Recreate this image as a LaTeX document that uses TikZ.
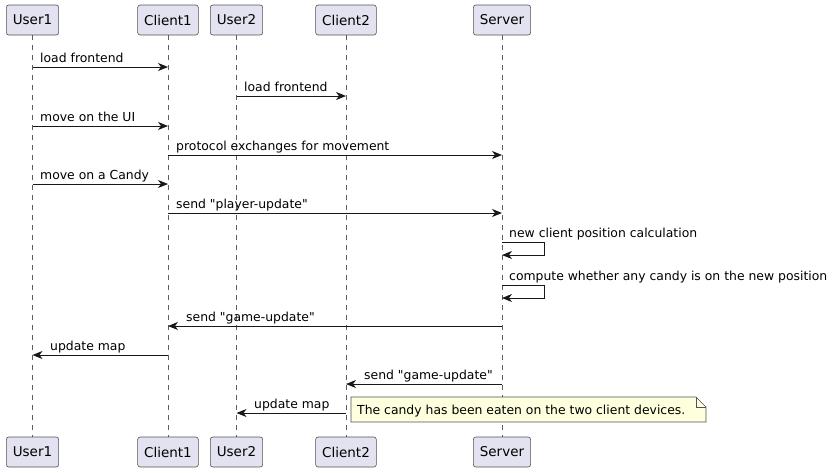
\documentclass[tikz,border=0pt]{standalone}
\usepackage{fontspec}
\setmainfont{DejaVu Sans}[Ligatures=TeXOff]
\usetikzlibrary{arrows.meta}
\definecolor{partfill}{HTML}{E2E2F0}
\definecolor{linecol}{HTML}{181818}
\definecolor{notefill}{HTML}{FEFFDD}
\tikzset{
	part/.style={draw=linecol!75, fill=partfill, rounded corners=2.5pt, line width=0.6pt, minimum height=30pt, inner xsep=6.5pt, font=\fontsize{13.5}{16}\selectfont},
	life/.style={draw=linecol!70, line width=0.5pt, dash pattern=on 5pt off 5pt},
	msg/.style={draw=linecol, line width=1pt, -{Stealth[length=10pt,width=8pt,inset=3pt]}},
	lbl/.style={anchor=base west, inner sep=0pt, font=\fontsize{12.4}{15}\selectfont},
}
\begin{document}
\begin{tikzpicture}[x=1pt,y=-1pt]
		\useasboundingbox (0,0) rectangle (838,472);
		\node[part] (u1t) at (32.5,20) {User1};
		\node[part] (c1t) at (168,20) {Client1};
		\node[part] (u2t) at (236.5,20) {User2};
		\node[part] (c2t) at (346,20) {Client2};
		\node[part] (svt) at (502,20) {Server};
		\node[part] (u1b) at (32.5,452) {User1};
		\node[part] (c1b) at (168,452) {Client1};
		\node[part] (u2b) at (236.5,452) {User2};
		\node[part] (c2b) at (346,452) {Client2};
		\node[part] (svb) at (502,452) {Server};
		\draw[life] (u1t) -- (u1b);
		\draw[life] (c1t) -- (c1b);
		\draw[life] (u2t) -- (u2b);
		\draw[life] (c2t) -- (c2b);
		\draw[life] (svt) -- (svb);
		\draw[msg] (u1t |- 0,67) -- (c1t |- 0,67);
		\node[lbl] (l1) at (40,62) {load frontend};
		\draw[msg] (u2t |- 0,96) -- (c2t |- 0,96);
		\node[lbl] (l2) at (244,91) {load frontend};
		\draw[msg] (u1t |- 0,126) -- (c1t |- 0,126);
		\node[lbl] (l3) at (40,121) {move on the UI};
		\draw[msg] (c1t |- 0,155) -- (svt |- 0,155);
		\node[lbl] (l4) at (176,150) {protocol exchanges for movement};
		\draw[msg] (u1t |- 0,184) -- (c1t |- 0,184);
		\node[lbl] (l5) at (40,179) {move on a Candy};
		\draw[msg] (c1t |- 0,213) -- (svt |- 0,213);
		\node[lbl] (l6) at (176,208) {send "player-update"};
		\draw[msg] (svt |- 0,242) -- ++(42,0) -- ++(0,13) -- (svt |- 0,255);
		\node[lbl] (l7) at (509,237) {new client position calculation};
		\draw[msg] (svt |- 0,285) -- ++(42,0) -- ++(0,13) -- (svt |- 0,298);
		\node[lbl] (l8) at (509,280) {compute whether any candy is on the new position};
		\draw[msg] (svt |- 0,326) -- (c1t |- 0,326);
		\node[lbl] (l9) at (186,321) {send "game-update"};
		\draw[msg] (c1t |- 0,355) -- (u1t |- 0,355);
		\node[lbl] (l10) at (50,350) {update map};
		\draw[msg] (svt |- 0,384) -- (c2t |- 0,384);
		\node[lbl] (l11) at (364,379) {send "game-update"};
		\draw[msg] (c2t |- 0,413) -- (u2t |- 0,413);
		\node[lbl] (l12) at (254,408) {update map};
		% note
		\draw[draw=linecol!75, fill=notefill, line width=0.6pt] (351,397) -- (696,397) -- (706,407) -- (706,422) -- (351,422) -- cycle;
		\draw[draw=linecol!75, line width=0.6pt] (696,397) -- (696,407) -- (706,407);
		\node[lbl] (nt) at (357,414) {The candy has been eaten on the two client devices.};
\end{tikzpicture}
\end{document}
